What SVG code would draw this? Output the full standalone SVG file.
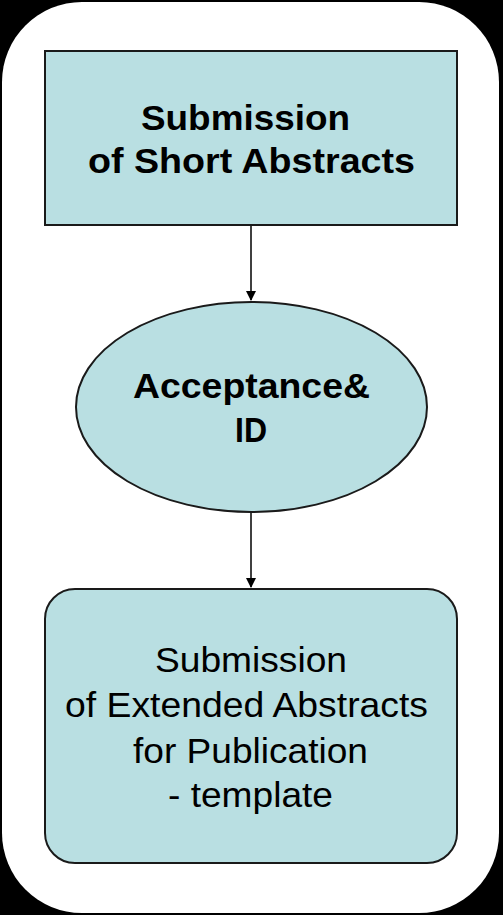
<svg xmlns="http://www.w3.org/2000/svg" width="503" height="915" viewBox="0 0 503 915">
<style>
.node{fill:#b9dfe2;stroke:#1a1a1a;stroke-width:2}
.b{font-family:"Liberation Sans",Arial,sans-serif;font-weight:bold;font-size:35px;fill:#000;text-anchor:middle}
.r{font-family:"Liberation Sans",Arial,sans-serif;font-size:35px;fill:#000;text-anchor:middle}
.conn{stroke:#000;stroke-width:1.5;fill:none}
</style>
<defs>
<marker id="ah" markerWidth="10" markerHeight="10" refX="9" refY="5" orient="auto" markerUnits="userSpaceOnUse" viewBox="0 0 10 10">
<path d="M0,0 L10,5 L0,10 z" fill="#000"/>
</marker>
</defs>
<rect x="0" y="0" width="503" height="915" fill="#000"/>
<rect x="2" y="2" width="497" height="911" rx="80" ry="80" fill="#fff"/>
<g id="connectors">
<line class="conn" x1="251" y1="226" x2="251" y2="300" marker-end="url(#ah)"/>
<line class="conn" x1="251" y1="513" x2="251" y2="587" marker-end="url(#ah)"/>
</g>
<g id="n1">
<rect class="node" x="45" y="51" width="412" height="174"/>
<text class="b" x="245.5" y="130" textLength="209" lengthAdjust="spacingAndGlyphs">Submission</text>
<text class="b" x="251.5" y="173" textLength="327" lengthAdjust="spacingAndGlyphs">of Short Abstracts</text>
</g>
<g id="n2">
<ellipse class="node" cx="251.5" cy="407" rx="175.5" ry="105"/>
<text class="b" x="251.5" y="398" textLength="237" lengthAdjust="spacingAndGlyphs">Acceptance&amp;</text>
<text class="b" x="251" y="442" textLength="32" lengthAdjust="spacingAndGlyphs">ID</text>
</g>
<g id="n3">
<rect class="node" x="45" y="589" width="412" height="274" rx="30" ry="30"/>
<text class="r" x="251" y="672" textLength="192" lengthAdjust="spacingAndGlyphs">Submission</text>
<text class="r" x="246.5" y="717" textLength="363" lengthAdjust="spacingAndGlyphs">of Extended Abstracts</text>
<text class="r" x="250.5" y="763" textLength="235" lengthAdjust="spacingAndGlyphs">for Publication</text>
<text class="r" x="250.5" y="807" textLength="165" lengthAdjust="spacingAndGlyphs">- template</text>
</g>
</svg>
